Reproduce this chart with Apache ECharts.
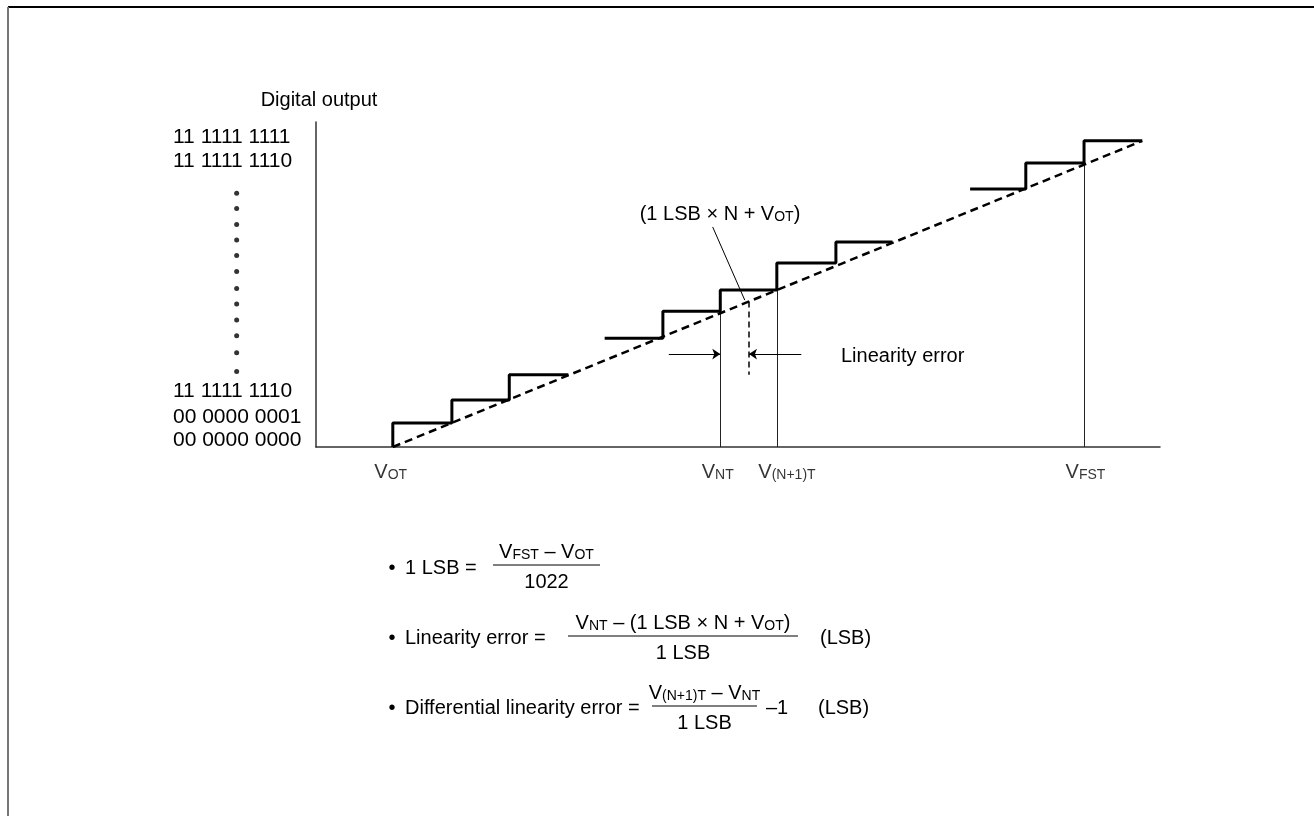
<!DOCTYPE html>
<html><head><meta charset="utf-8">
<script src="https://cdn.jsdelivr.net/npm/echarts@6/dist/echarts.min.js"></script>
<style>html,body{margin:0;padding:0;background:#fff}#c{width:1314px;height:816px}</style>
</head><body><div id="c"></div>
<script>
// ---- data (axis units: input 0..100, output 0..100) ----
const codeLabels = ['11 1111 1111', '11 1111 1110', '11 1111 1110', '00 0000 0001', '00 0000 0000'];
const codeLabelLevels = [95.4, 88.0, 17.2, 9.2, 2.2];
const ellipsisDotX = -9.4;
const ellipsisDotLevels = [78.1, 73.4, 68.5, 63.7, 58.9, 54.0, 48.8, 44.0, 39.1, 34.2, 29.0, 23.2];
const stairLow  = [[9.1, 0], [9.1, 7.4], [16.1, 7.4], [16.1, 14.5], [22.9, 14.5], [22.9, 22.2], [29.9, 22.2]];
const stairMid  = [[34.2, 33.5], [41.1, 33.5], [41.1, 41.8], [47.9, 41.8], [47.9, 48.3], [54.6, 48.3], [54.6, 56.6], [61.6, 56.6], [61.6, 63.1], [68.3, 63.1]];
const stairHigh = [[77.5, 79.4], [84.1, 79.4], [84.1, 87.4], [91.0, 87.4], [91.0, 94.2], [97.9, 94.2]];
const idealLine = [[9.1, 0], [97.9, 94.2]];
const thresholdNames = ['OT', 'NT', '(N+1)T', 'FST'];
const thresholdX = [9.1, 47.9, 54.6, 91.0];
const guideTop = [0, 41.8, 48.3, 87.4];
const idealPoint = [51.3, 44.8];
const errorMarkBottom = 22.2;
const arrowY = 28.6;
const arrowLeft = [41.8, 47.9];
const arrowRight = [57.5, 51.3];
const leader = [[47.0, 67.7], [50.8, 45.2]];

const F = 'Liberation Sans';
const rich = {
  t: {fontSize: 20, fontFamily: F, lineHeight: 22, verticalAlign: 'bottom', color: '#000', fill: '#000'},
  v: {fontSize: 20, fontFamily: F, lineHeight: 22, verticalAlign: 'bottom', color: '#000', fill: '#000'},
  s: {fontSize: 14, fontFamily: F, lineHeight: 18, verticalAlign: 'bottom', color: '#000', fill: '#000'}
};
const V = sub => '{v|V}{s|' + sub + '}';

function txt(x, y, text, align) {
  return {type: 'text', x: x, y: y, z: 10,
    style: {text: text, rich: rich, fill: '#000', fontSize: 20, fontFamily: F, align: align || 'left', verticalAlign: 'middle'}};
}
function hline(x1, x2, y, w, color) {
  return {type: 'line', z: 10, shape: {x1: x1, y1: y, x2: x2, y2: y}, style: {stroke: color || '#000', lineWidth: w || 1}};
}
function fraction(x1, x2, yBar, num, den) {
  const cx = (x1 + x2) / 2;
  return [hline(x1, x2, yBar, 1.2), txt(cx, yBar - 14, num, 'center'), txt(cx, yBar + 16, den, 'center')];
}

const graphics = [
  {type: 'line', z: 10, shape: {x1: 8, y1: 7, x2: 1314, y2: 7}, style: {stroke: '#000', lineWidth: 2}},
  {type: 'line', z: 10, shape: {x1: 8, y1: 7, x2: 8, y2: 816}, style: {stroke: '#777', lineWidth: 2}},
  txt(720, 213, '{t|(1 LSB × N + }' + V('OT') + '{t|)}', 'center'),
  txt(841, 355, '{t|Linearity error}'),
  // row 1
  txt(392, 568, '•', 'center'),
  txt(405, 567, '{t|1 LSB =}'),
  ...fraction(493, 600, 565, V('FST') + '{t| – }' + V('OT'), '{t|1022}'),
  // row 2
  txt(392, 638, '•', 'center'),
  txt(405, 637, '{t|Linearity error =}'),
  ...fraction(568, 798, 636, V('NT') + '{t| – (1 LSB × N + }' + V('OT') + '{t|)}', '{t|1 LSB}'),
  txt(820, 637, '{t|(LSB)}'),
  // row 3
  txt(392, 708, '•', 'center'),
  txt(405, 707, '{t|Differential linearity error =}'),
  ...fraction(652, 757, 706, V('(N+1)T') + '{t| – }' + V('NT'), '{t|1 LSB}'),
  txt(766, 707, '{t|–1}'),
  txt(818, 707, '{t|(LSB)}')
];

const chart = echarts.init(document.getElementById('c'), null, {renderer: 'canvas'});
chart.setOption({
  animation: false,
  backgroundColor: '#fff',
  grid: {left: 316, right: 154, top: 122, bottom: 369, containLabel: false},
  xAxis: {type: 'value', min: 0, max: 100,
    axisLine: {show: true, onZero: false, lineStyle: {color: '#333', width: 1.5}},
    axisTick: {show: false}, axisLabel: {show: false}, splitLine: {show: false}},
  yAxis: {type: 'value', min: 0, max: 100,
    name: 'Digital output', nameLocation: 'end', nameGap: 12,
    nameTextStyle: {color: '#000', fontSize: 20, fontFamily: F, padding: [0, 0, 0, 6]},
    axisLine: {show: true, onZero: false, lineStyle: {color: '#333', width: 1.5}},
    axisTick: {show: false}, splitLine: {show: false},
    axisLabel: {show: true, customValues: codeLabelLevels, align: 'left', margin: 143,
      color: '#000', fontSize: 21, fontFamily: F,
      formatter: val => codeLabels[codeLabelLevels.indexOf(val)] || ''}},
  graphic: graphics,
  series: [
    {type: 'lines', coordinateSystem: 'cartesian2d', z: 2, silent: true,
      lineStyle: {color: '#222', width: 1, opacity: 1},
      data: thresholdX.map((x, i) => ({coords: [[x, 0], [x, guideTop[i]]]})).filter((d, i) => guideTop[i] > 0)},
    {type: 'line', data: idealLine, showSymbol: false, z: 3, silent: true,
      lineStyle: {color: '#000', width: 2.5, type: [8, 5]}},
    {type: 'line', data: stairLow, showSymbol: false, z: 4, silent: true, lineStyle: {color: '#000', width: 3}},
    {type: 'line', data: stairMid, showSymbol: false, z: 4, silent: true, lineStyle: {color: '#000', width: 3}},
    {type: 'line', data: stairHigh, showSymbol: false, z: 4, silent: true, lineStyle: {color: '#000', width: 3}},
    {type: 'lines', coordinateSystem: 'cartesian2d', z: 2, silent: true,
      lineStyle: {color: '#000', width: 1.5, type: [6, 4], opacity: 1},
      data: [{coords: [idealPoint, [idealPoint[0], errorMarkBottom]]}]},
    {type: 'lines', coordinateSystem: 'cartesian2d', z: 2, silent: true,
      lineStyle: {color: '#000', width: 1, opacity: 1},
      data: [{coords: leader}]},
    {type: 'lines', coordinateSystem: 'cartesian2d', z: 2, silent: true,
      symbol: ['none', 'arrow'], symbolSize: 8,
      lineStyle: {color: '#000', width: 1, opacity: 1},
      data: [{coords: [[arrowLeft[0], arrowY], [arrowLeft[1], arrowY]]},
             {coords: [[arrowRight[0], arrowY], [arrowRight[1], arrowY]]}]},
    {type: 'scatter', clip: false, silent: true, symbolSize: 5, itemStyle: {color: '#000'},
      data: ellipsisDotLevels.map(y => [ellipsisDotX, y])},
    {type: 'scatter', clip: false, silent: true, symbolSize: 1, itemStyle: {color: 'rgba(0,0,0,0)'},
      data: thresholdX.map(x => [x, 0]),
      label: {show: true, position: [-18, 25], align: 'left', verticalAlign: 'middle', rich: rich,
        formatter: p => V(thresholdNames[p.dataIndex])}}
  ]
});
</script></body></html>
